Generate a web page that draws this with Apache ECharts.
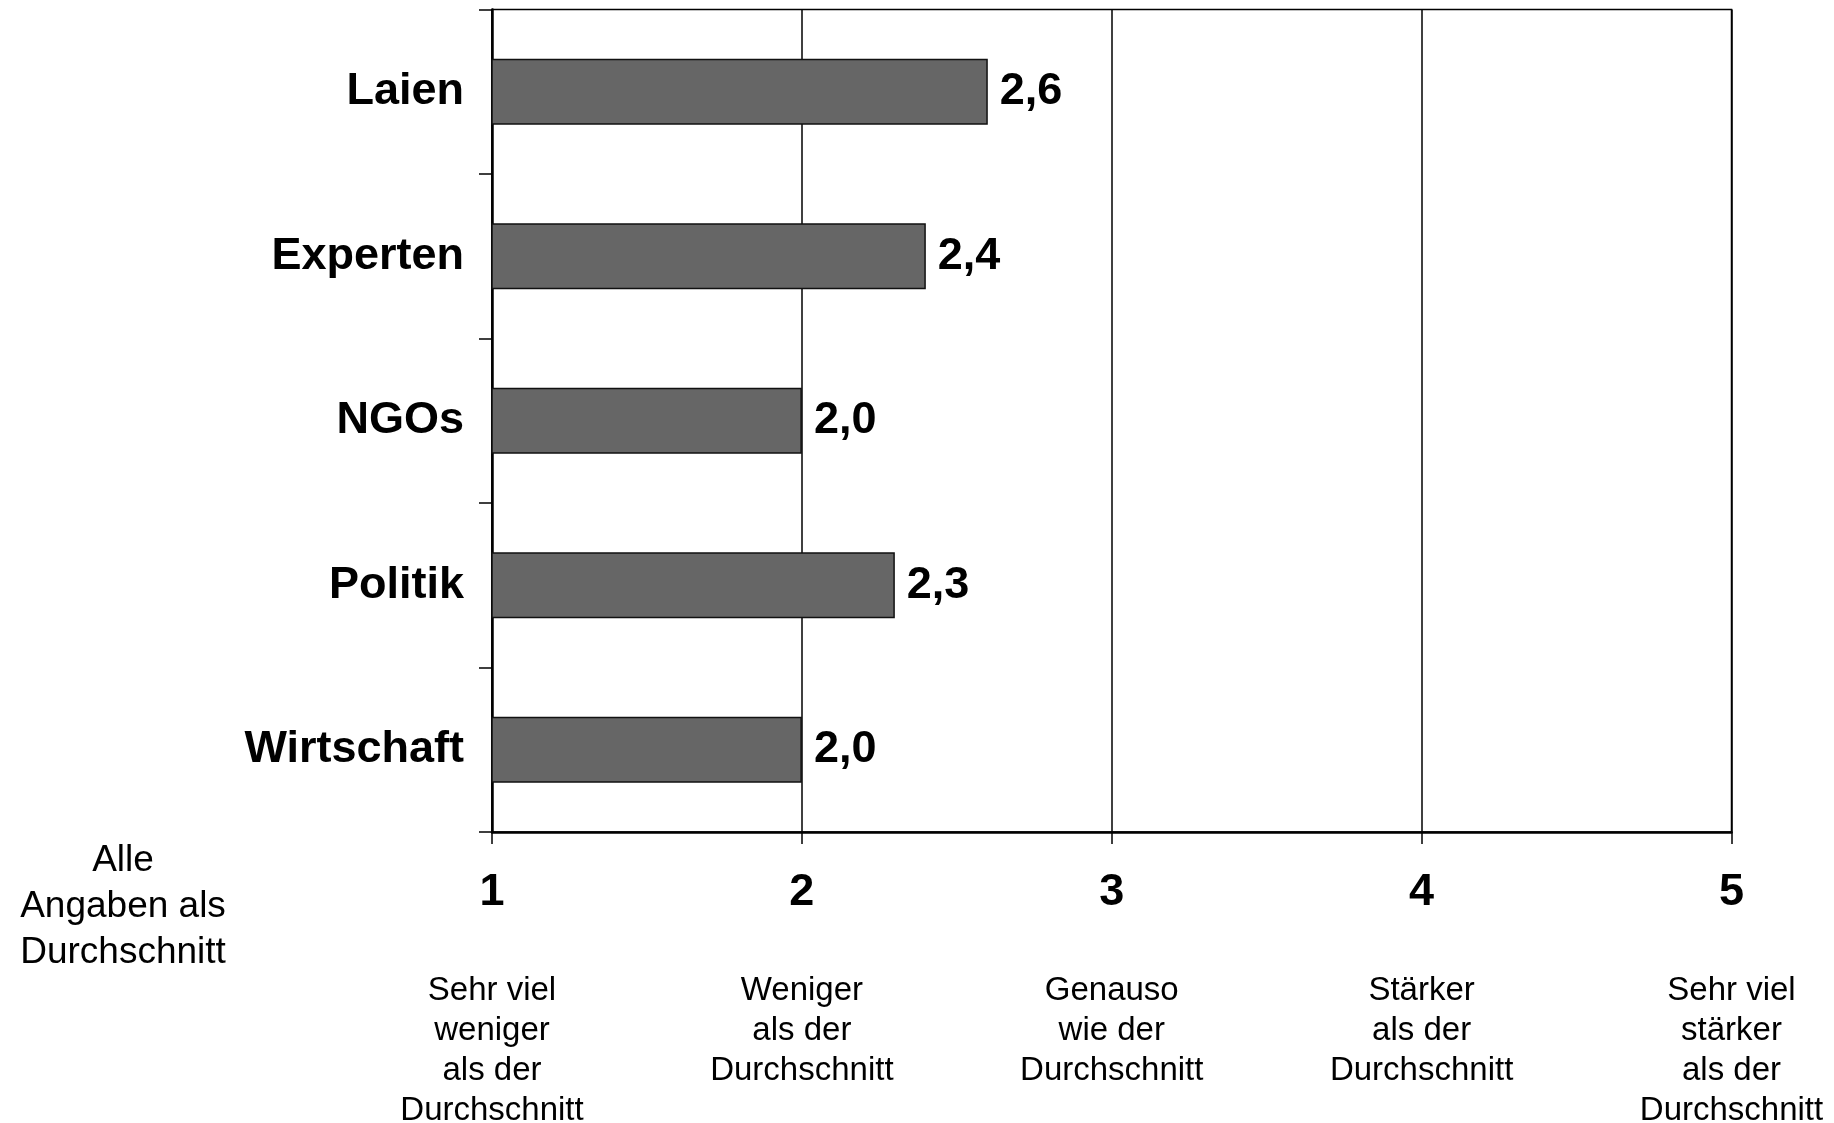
<!DOCTYPE html>
<html>
<head>
<meta charset="utf-8">
<script src="https://cdn.jsdelivr.net/npm/echarts@6/dist/echarts.min.js"></script>
<style>
html,body{margin:0;padding:0;background:#fff;}
#chart{width:1834px;height:1123px;}
</style>
</head>
<body>
<div id="chart"></div>
<script>
var categories = ['Laien', 'Experten', 'NGOs', 'Politik', 'Wirtschaft'];
var values = [2.6, 2.4, 2.0, 2.3, 2.0];
var scaleTicks = [1, 2, 3, 4, 5];
var scaleLabels = [
  'Sehr viel\nweniger\nals der\nDurchschnitt',
  'Weniger\nals der\nDurchschnitt',
  'Genauso\nwie der\nDurchschnitt',
  'Stärker\nals der\nDurchschnitt',
  'Sehr viel\nstärker\nals der\nDurchschnitt'
];
var noteText = 'Alle\nAngaben als\nDurchschnitt';

var FONT = '"Liberation Sans", Arial, Helvetica, sans-serif';
var chart = echarts.init(document.getElementById('chart'), null, {renderer: 'canvas'});

chart.setOption({
  animation: false,
  backgroundColor: '#ffffff',
  grid: {
    left: 492, right: 102.5, top: 9.5, bottom: 291,
    containLabel: false,
    outerBoundsMode: 'none',
    show: true, borderColor: '#000', borderWidth: 1.5, backgroundColor: 'transparent'
  },
  graphic: [{
    type: 'text',
    x: 123, y: 838,
    style: {
      text: noteText,
      textAlign: 'center',
      textVerticalAlign: 'top',
      fontFamily: FONT,
      fontSize: 37,
      lineHeight: 46,
      fill: '#000'
    }
  }],
  xAxis: [{
    type: 'value',
    min: scaleTicks[0],
    max: scaleTicks[scaleTicks.length - 1],
    interval: 1,
    position: 'bottom',
    axisLine: {show: true, onZero: false, lineStyle: {color: '#000', width: 2.5}},
    axisTick: {show: true, length: 12, lineStyle: {color: '#000', width: 1.5}},
    splitLine: {show: true, lineStyle: {color: '#000', width: 1.5}},
    axisLabel: {
      margin: 38,
      color: '#000',
      fontFamily: FONT,
      fontWeight: 'bold',
      fontSize: 45,
      lineHeight: 45
    }
  }, {
    type: 'value',
    min: scaleTicks[0],
    max: scaleTicks[scaleTicks.length - 1],
    interval: 1,
    position: 'bottom',
    axisLine: {show: false},
    axisTick: {show: false},
    splitLine: {show: false},
    axisLabel: {
      margin: 139,
      color: '#000',
      fontFamily: FONT,
      fontSize: 33,
      lineHeight: 40,
      align: 'center',
      formatter: function (v) {
        var i = scaleTicks.indexOf(v);
        return i >= 0 ? scaleLabels[i] : '';
      }
    }
  }],
  yAxis: {
    type: 'category',
    data: categories,
    inverse: true,
    axisLine: {show: true, lineStyle: {color: '#000', width: 2.5}},
    axisTick: {show: true, length: 13, inside: false, lineStyle: {color: '#000', width: 1.5}},
    splitLine: {show: false},
    axisLabel: {
      margin: 28,
      color: '#000',
      fontFamily: FONT,
      fontWeight: 'bold',
      fontSize: 45
    }
  },
  series: [{
    type: 'bar',
    xAxisIndex: 0,
    data: values,
    barWidth: '40%',
    itemStyle: {color: '#666666', borderColor: '#111', borderWidth: 1.5},
    label: {
      show: true,
      position: 'right',
      distance: 12,
      color: '#000',
      fontFamily: FONT,
      fontWeight: 'bold',
      fontSize: 45,
      formatter: function (p) { return p.value.toFixed(1).replace('.', ','); }
    }
  }]
});
</script>
</body>
</html>
